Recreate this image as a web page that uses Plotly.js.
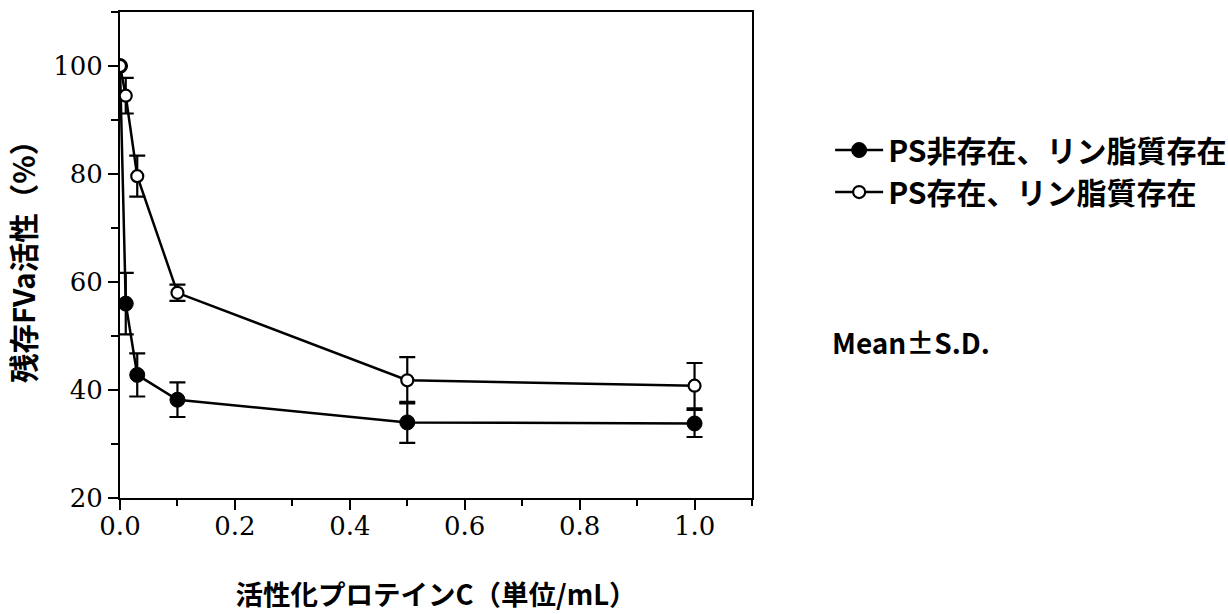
<!DOCTYPE html>
<html>
<head>
<meta charset="utf-8">
<script src="https://cdn.plot.ly/plotly-3.0.1.min.js"></script>
<style>html,body{margin:0;padding:0;background:#fff;}#chart{width:1228px;height:614px;}</style>
</head>
<body>
<div id="chart"></div>
<script>
// Data
var doseX = [0, 0.01, 0.03, 0.1, 0.5, 1.0];
var noPSValues = [100, 56, 42.8, 38.2, 34, 33.8];
var noPSErrors = [0, 5.7, 4.0, 3.2, 3.8, 2.5];
var withPSValues = [100, 94.5, 79.6, 58, 41.8, 40.8];
var withPSErrors = [0, 3.3, 3.8, 1.5, 4.3, 4.2];
var seriesNames = ['PS非存在、リン脂質存在', 'PS存在、リン脂質存在'];
var xTickVals = [0, 0.2, 0.4, 0.6, 0.8, 1.0];
var xTickText = ['0.0', '0.2', '0.4', '0.6', '0.8', '1.0'];
var yTickVals = [20, 40, 60, 80, 100];
var xTitle = '活性化プロテインC（単位/mL）';
var yTitle = '残存FVa活性（%）';
var noteText = 'Mean±S.D.';

var cjk = '"Noto Sans CJK JP", "Noto Sans", sans-serif';
var serif = '"DejaVu Serif", "Liberation Serif", serif';

var traces = [
  {
    x: doseX, y: noPSValues, name: seriesNames[0], type: 'scatter', mode: 'lines+markers',
    line: {color: '#000', width: 2.5},
    marker: {symbol: 'circle', size: 15, color: '#000', line: {color: '#000', width: 1}},
    error_y: {type: 'data', array: noPSErrors, visible: true, color: '#000', thickness: 2.2, width: 8}
  },
  {
    x: doseX, y: withPSValues, name: seriesNames[1], type: 'scatter', mode: 'lines+markers',
    line: {color: '#000', width: 2.5},
    marker: {symbol: 'circle', size: 12, color: '#fff', line: {color: '#000', width: 2.2}},
    error_y: {type: 'data', array: withPSErrors, visible: true, color: '#000', thickness: 2.2, width: 8}
  }
];

var layout = {
  width: 1228, height: 614,
  margin: {l: 120, r: 476, t: 12, b: 116},
  paper_bgcolor: '#fff', plot_bgcolor: '#fff',
  showlegend: true,
  legend: {
    xref: 'container', yref: 'container',
    x: 0.676, y: 0.798, xanchor: 'left', yanchor: 'top',
    font: {family: cjk, size: 30, color: '#000', weight: 'bold'},
    bgcolor: 'rgba(0,0,0,0)', itemwidth: 48, traceorder: 'normal'
  },
  xaxis: {
    range: [0, 1.1], tickvals: xTickVals, ticktext: xTickText,
    ticks: 'outside', ticklen: 10, tickwidth: 2, tickcolor: '#000',
    minor: {dtick: 0.1, ticks: 'outside', ticklen: 6, tickwidth: 2, tickcolor: '#000'},
    showline: true, linecolor: '#000', linewidth: 2, mirror: true,
    showgrid: false, zeroline: false, ticklabelstandoff: -6,
    tickfont: {family: serif, size: 26, color: '#000'},
    title: {text: xTitle, font: {family: cjk, size: 27.5, color: '#000', weight: 'bold'}, standoff: 46}
  },
  yaxis: {
    range: [20, 110], tickvals: yTickVals,
    ticks: 'outside', ticklen: 10, tickwidth: 2, tickcolor: '#000',
    minor: {dtick: 10, ticks: 'outside', ticklen: 7, tickwidth: 2, tickcolor: '#000'},
    showline: true, linecolor: '#000', linewidth: 2, mirror: true,
    showgrid: false, zeroline: false,
    tickfont: {family: serif, size: 26, color: '#000'}
  },
  annotations: [
    {text: yTitle, xref: 'paper', yref: 'paper', x: -0.155, y: 0.5, xanchor: 'center', yanchor: 'middle',
     textangle: -90, showarrow: false, font: {family: cjk, size: 29.5, color: '#000', weight: 'bold'}},
    {text: noteText, xref: 'paper', yref: 'paper', x: 1.2515, y: 0.32, xanchor: 'center', yanchor: 'middle',
     showarrow: false, font: {family: cjk, size: 28, color: '#000', weight: 'bold'}}
  ]
};

Plotly.newPlot('chart', traces, layout, {displayModeBar: false, staticPlot: true});
</script>
</body>
</html>
